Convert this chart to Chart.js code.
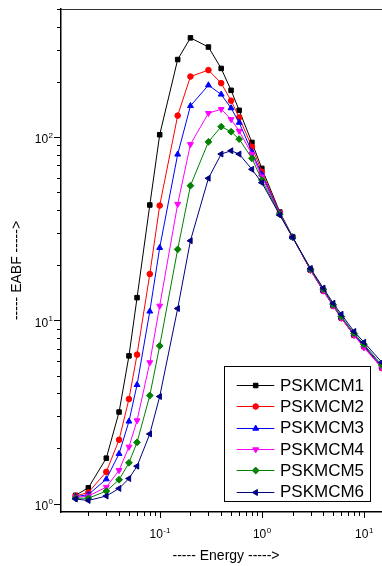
<!DOCTYPE html>
<html><head><meta charset="utf-8">
<script src="https://cdn.jsdelivr.net/npm/chart.js@4.4.1/dist/chart.umd.min.js"></script>
<style>html,body{margin:0;padding:0;background:#fff;overflow:hidden;width:382px;height:566px}canvas{display:block}</style>
</head><body>
<canvas id="c" width="394" height="566"></canvas>
<script>
// ---- data ----
const energy = [0.015,0.02,0.03,0.04,0.05,0.06,0.08,0.1,0.15,0.2,0.3,0.4,0.5,0.6,0.8,1,1.5,2,3,4,5,6,8,10,15];
const pskmcm1 = [1.11,1.22,1.77,3.16,6.4,13.3,42.6,103,265,348,310,237,180,140,93.5,67.5,39.0,28.6,18.8,14.5,12.0,10.3,8.3,7.2,5.5];
const pskmcm2 = [1.10,1.15,1.49,2.23,3.72,6.5,17.9,42.3,131,214,232,197,158,128,88.5,64.7,38.7,28.5,18.8,14.5,12.0,10.3,8.3,7.2,5.5];
const pskmcm3 = [1.09,1.12,1.36,1.87,2.81,4.45,11.2,24.9,80.5,148,192,171,144,120,83,62.6,38.4,28.4,18.9,14.6,12.1,10.4,8.4,7.3,5.6];
const pskmcm4 = [1.08,1.10,1.23,1.52,2.04,2.84,5.89,12.0,43.1,91.3,135,142,125,108,80.8,60.8,38.2,28.4,18.8,14.5,12.0,10.3,8.3,7.1,5.5];
const pskmcm5 = [1.07,1.07,1.17,1.35,1.67,2.16,3.89,7.26,24.4,54.3,94.2,114,107,97.5,76.6,58.3,38.0,28.4,19.0,14.8,12.2,10.5,8.5,7.4,5.7];
const pskmcm6 = [1.06,1.04,1.10,1.21,1.37,1.60,2.40,3.84,11.6,27.2,59.6,80.8,84.2,80.8,66.7,56.4,37.5,28.4,19.2,15.0,12.4,10.8,8.7,7.6,5.9];
const seriesNames = ['PSKMCM1','PSKMCM2','PSKMCM3','PSKMCM4','PSKMCM5','PSKMCM6'];
const seriesValues = [pskmcm1,pskmcm2,pskmcm3,pskmcm4,pskmcm5,pskmcm6];
const xTickValues = [0.1, 1, 10];
const xTickExponents = ['-1','0','1'];
const yTickValues = [1, 10, 100];
const yTickExponents = ['0','1','2'];
const xTitle = '----- Energy ----->';
const yTitle = '----- EABF ----->';

// ---- styles ----
const colors = ['#000000','#ff0000','#0000ff','#ff00ff','#008000','#000080'];
const markers = ['rect','circle','triangle','triangle','rectRot','triangle'];
const rotations = [0,0,0,180,0,-90];
const radii = [3.2,2.8,3.4,3.4,3.4,3.4];
const FONT = '"Liberation Sans", Arial, sans-serif';

const datasets = seriesNames.map((name, i) => ({
  label: name,
  data: energy.map((x, j) => ({x: x, y: seriesValues[i][j]})),
  borderColor: colors[i],
  backgroundColor: colors[i],
  borderWidth: 1,
  pointStyle: markers[i],
  pointRotation: rotations[i],
  pointRadius: radii[i],
  pointBorderWidth: 1,
  pointBackgroundColor: colors[i],
  pointBorderColor: colors[i],
  tension: 0,
  order: seriesNames.length - 1 - i
}));

function drawMarker(ctx, style, r, rot, x, y, color) {
  ctx.save();
  ctx.fillStyle = color; ctx.strokeStyle = color; ctx.lineWidth = 1;
  if (Chart.helpers && Chart.helpers.drawPoint) {
    Chart.helpers.drawPoint(ctx, {pointStyle: style, radius: r, rotation: rot, borderWidth: 1}, x, y);
  } else {
    ctx.beginPath(); ctx.arc(x, y, r, 0, Math.PI*2); ctx.fill();
  }
  ctx.restore();
}

const decor = {
  id: 'decor',
  afterDraw(chart) {
    const ctx = chart.ctx, xs = chart.scales.x, ys = chart.scales.y, ca = chart.chartArea;
    ctx.save();
    // frame top/right
    ctx.strokeStyle = '#333'; ctx.lineWidth = 1;
    ctx.beginPath();
    ctx.moveTo(ca.left, Math.round(ca.top) + 0.5); ctx.lineTo(ca.right, Math.round(ca.top) + 0.5);
    ctx.moveTo(Math.round(ca.right) - 0.5, ca.top); ctx.lineTo(Math.round(ca.right) - 0.5, ca.bottom);
    ctx.stroke();
    // ticks
    ctx.strokeStyle = '#000'; ctx.lineWidth = 1;
    ctx.beginPath();
    for (let d = -2; d <= 1; d++) for (let m = 1; m <= 9; m++) {
      const v = m * Math.pow(10, d);
      if (v < xs.min || v > xs.max) continue;
      const px = Math.round(xs.getPixelForValue(v)) + 0.5;
      if (px < ca.left + 2) continue;
      const len = m === 1 ? 6 : 4;
      ctx.moveTo(px, ca.bottom); ctx.lineTo(px, ca.bottom + len);
    }
    for (let d = -1; d <= 2; d++) for (let m = 1; m <= 9; m++) {
      const v = m * Math.pow(10, d);
      if (v < ys.min || v > ys.max + 1e-9) continue;
      const py = Math.round(ys.getPixelForValue(v)) + 0.5;
      if (py > ca.bottom - 3) continue;
      const len = m === 1 ? 7 : 4;
      ctx.moveTo(ca.left, py); ctx.lineTo(ca.left - len, py);
    }
    ctx.stroke();
    // tick labels
    ctx.fillStyle = '#000';
    ctx.textBaseline = 'alphabetic'; ctx.textAlign = 'left';
    const big = '12px ' + FONT, small = '8px ' + FONT;
    xTickValues.forEach((v, i) => {
      const px = xs.getPixelForValue(v);
      ctx.font = big; const w1 = ctx.measureText('10').width;
      ctx.font = small; const w2 = ctx.measureText(xTickExponents[i]).width;
      const x0 = px - (w1 + w2) / 2;
      ctx.font = big; ctx.fillText('10', x0, ca.bottom + 26);
      ctx.font = small; ctx.fillText(xTickExponents[i], x0 + w1 + 0.5, ca.bottom + 21);
    });
    yTickValues.forEach((v, i) => {
      const py = ys.getPixelForValue(v);
      ctx.font = small; const w2 = ctx.measureText(yTickExponents[i]).width;
      ctx.font = big; const w1 = ctx.measureText('10').width;
      const xr = ca.left - 8;
      ctx.font = small; ctx.fillText(yTickExponents[i], xr - w2, py + 0.5);
      ctx.font = big; ctx.fillText('10', xr - w2 - 0.5 - w1, py + 6.3);
    });
    // axis titles
    ctx.font = '14px ' + FONT;
    ctx.textAlign = 'center'; ctx.textBaseline = 'alphabetic';
    ctx.fillText(xTitle, 226, 560);
    ctx.save();
    ctx.translate(20.7, 270.5); ctx.rotate(-Math.PI / 2);
    ctx.fillText(yTitle, 0, 0);
    ctx.restore();
    // legend
    const lx = 224.5, ly = 366.5, lw = 146, lh = 135;
    ctx.fillStyle = '#fff'; ctx.fillRect(lx, ly, lw, lh);
    ctx.strokeStyle = '#000'; ctx.lineWidth = 1; ctx.strokeRect(lx, ly, lw, lh);
    ctx.font = '17px ' + FONT; ctx.textAlign = 'left'; ctx.textBaseline = 'middle';
    seriesNames.forEach((name, i) => {
      const y = 385 + i * 21.3;
      ctx.strokeStyle = colors[i]; ctx.lineWidth = 1;
      ctx.beginPath(); ctx.moveTo(236.7, Math.round(y) + 0.5); ctx.lineTo(274.3, Math.round(y) + 0.5); ctx.stroke();
      drawMarker(ctx, markers[i], radii[i], rotations[i], 255.7, Math.round(y) + 0.5, colors[i]);
      ctx.fillStyle = '#000';
      ctx.fillText(name, 280, y + 1);
    });
    ctx.restore();
  }
};

new Chart(document.getElementById('c'), {
  type: 'line',
  data: { datasets: datasets },
  options: {
    responsive: false,
    animation: false,
    devicePixelRatio: 1,
    events: [],
    layout: { padding: { top: 9, right: 1, left: 0, bottom: 0 } },
    plugins: { legend: { display: false }, tooltip: { enabled: false } },
    scales: {
      x: {
        type: 'logarithmic', min: 0.0108, max: 17.6,
        grid: { display: false, drawTicks: false },
        border: { display: true, color: '#000', width: 1.5 },
        ticks: { display: false },
        afterFit(s) { s.height = 54; }
      },
      y: {
        type: 'logarithmic', min: 0.9, max: 500,
        grid: { display: false, drawTicks: false },
        border: { display: true, color: '#000', width: 1.5 },
        ticks: { display: false },
        afterFit(s) { s.width = 61; }
      }
    }
  },
  plugins: [decor]
});
</script>
</body></html>
